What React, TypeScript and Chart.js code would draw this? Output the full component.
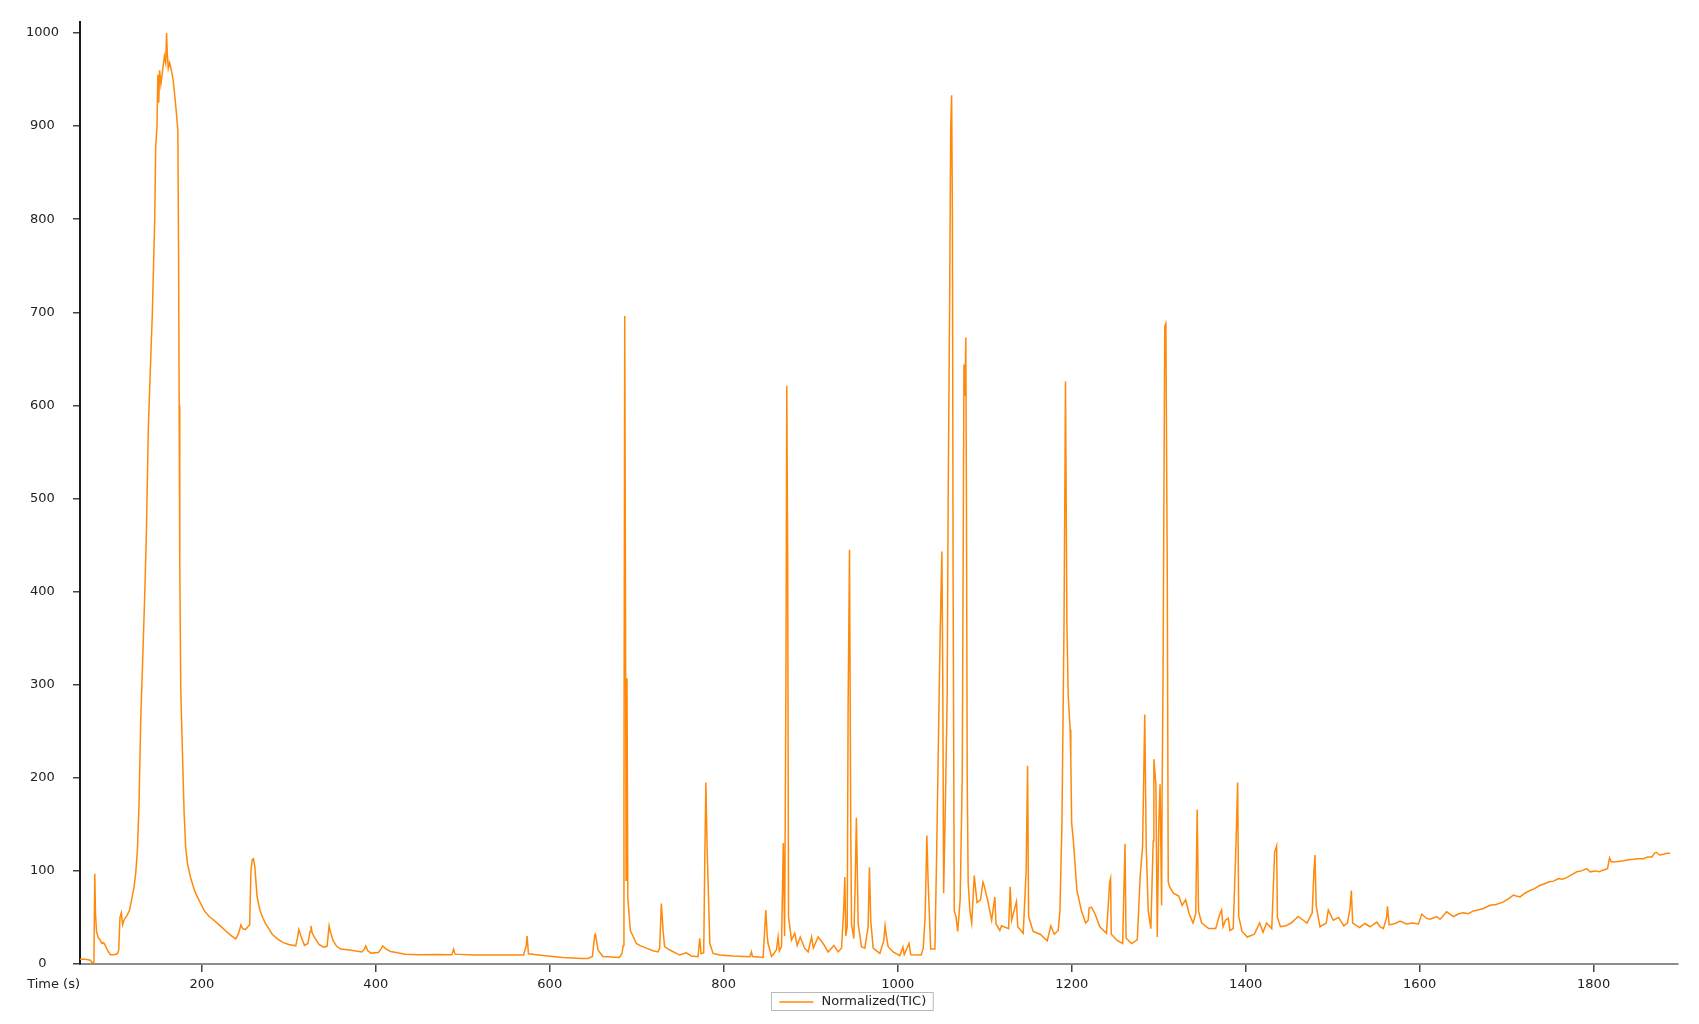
import React, { useEffect, useRef } from "react";
import { Chart, registerables } from "chart.js";

Chart.register(...registerables);

// Retention time (s)
const times: number[] = [
  60, 66, 72, 74, 76, 77, 77.8, 79, 81, 83, 85, 87, 89, 92, 95, 99, 103, 104.5, 106, 107.5,
  109, 111, 114, 117, 120, 122, 124, 126, 127.8, 129.8, 132.4, 134.7, 136.3, 138.6, 141.3, 143.2, 145.9, 147, 148.5, 149.5,
  150.5, 151.5, 153, 155, 157, 158.5, 159.5, 160.5, 161.5, 163, 165, 167, 169, 171, 172.5, 173.3, 174, 174.7, 175.8, 177.7,
  179.7, 181.5, 183.5, 187.3, 192, 197, 203, 208.5, 214, 220, 227, 233, 239, 242, 245, 247, 250, 253, 255, 256.5,
  258, 259.4, 261, 263.5, 266.8, 270, 273, 277, 281, 287, 293.6, 300, 308, 310, 311.5, 314, 318, 322, 324.5, 325.5,
  327, 330, 334.8, 340, 344, 346.4, 348, 351, 355, 359.6, 370, 384, 387, 388.5, 391, 394.6, 403, 406, 408, 412,
  417, 425, 433.8, 450, 471, 487.4, 489.5, 491, 512, 540, 569.9, 573, 574, 575.5, 594.6, 615, 636, 644, 649, 651.7,
  652.5, 655.5, 661, 680, 683, 684.5, 685.3, 686.2, 687, 687.8, 688.8, 689.8, 692.7, 699.6, 703.4, 711, 718.8, 724.5, 726.4, 728.3,
  730.3, 732, 738, 749.4, 757, 762.8, 770.5, 772.4, 774, 777, 778.2, 779.5, 781, 782, 784, 787.8, 795.4, 810.8, 830, 831.9,
  833, 845.3, 848.4, 850, 851, 855, 860.6, 862.5, 864, 866.4, 868.5, 870, 871.5, 872.5, 873.5, 874.5, 877.9, 881.7, 884.4, 888,
  893, 897, 901, 903, 908.5, 914.3, 920, 926.6, 931.6, 935.4, 938, 939.2, 940.3, 942, 943, 944.6, 946, 946.9, 949.5, 951,
  952.5, 954.6, 958.4, 962.2, 966, 967.5, 969, 971.8, 979.5, 984, 985.5, 987, 989, 994.8, 1002.5, 1006, 1007.5, 1013, 1015, 1027,
  1029.3, 1031.5, 1033.5, 1035, 1037.9, 1042.8, 1044.8, 1046.8, 1048.8, 1050.8, 1051.8, 1052.8, 1054.9, 1056.9, 1058, 1059.7, 1060.9, 1062, 1062.9, 1063.7,
  1065, 1067, 1069, 1071.8, 1074.2, 1076.2, 1077.3, 1078.3, 1079, 1079.9, 1081, 1083, 1085.1, 1088, 1091.2, 1095.2, 1098, 1099.2, 1103.3, 1108,
  1111.7, 1113, 1117.4, 1119.4, 1127.5, 1129.3, 1131, 1136.5, 1138, 1144.3, 1147.7, 1149.3, 1150.5, 1155.7, 1163.8, 1171.9, 1176, 1180, 1184.5, 1186.5,
  1188.8, 1191.2, 1192.9, 1194.5, 1196, 1198.2, 1199, 1200, 1202, 1206, 1211, 1216, 1219, 1220, 1222.8, 1226.7, 1232.4, 1240, 1243.7, 1244.7,
  1245.5, 1252.6, 1258.6, 1261.3, 1262.5, 1268.7, 1275.4, 1278.8, 1281.5, 1284, 1285.7, 1288, 1291, 1293.7, 1294.5, 1296.8, 1298.4, 1300.2, 1301.6, 1303.4,
  1303.9, 1305, 1307, 1308.3, 1309.9, 1311, 1313, 1317, 1323, 1327, 1331, 1335, 1339.5, 1342.6, 1344.3, 1345.8, 1349.4, 1357.5, 1365.5, 1370.4,
  1372.3, 1374, 1376.8, 1380, 1382, 1385.7, 1389, 1390.8, 1392, 1395.8, 1401.9, 1410, 1416, 1420, 1424, 1430, 1433.3, 1435.6, 1436.5, 1440,
  1446.2, 1452.3, 1460.4, 1466.3, 1470.5, 1476.5, 1478.5, 1479.7, 1481, 1485.4, 1492.6, 1495, 1500.7, 1506.8, 1512.8, 1517, 1520, 1521.5, 1523, 1531,
  1537, 1543, 1550.7, 1554.5, 1558.3, 1562, 1563, 1565, 1571.8, 1577.5, 1585, 1592, 1598.6, 1602.4, 1608, 1612, 1619.7, 1623.5, 1631, 1638.8,
  1645, 1650.3, 1656, 1661.8, 1667, 1673.3, 1681, 1688, 1696.3, 1702, 1707.8, 1711, 1715.5, 1721, 1727, 1732, 1738.5, 1743, 1748, 1754,
  1759.6, 1764, 1769, 1775, 1780.7, 1786, 1792, 1796, 1802, 1806, 1811.4, 1816, 1818.3, 1820, 1822.9, 1828, 1834.4, 1840, 1845.8, 1851,
  1857.4, 1862, 1867, 1870, 1872, 1876, 1880.4, 1884, 1888,
];

// Normalized TIC intensity
const tic: number[] = [
  5, 5, 4, 1, 2, 97, 55, 35, 28, 26, 22, 23, 20, 14, 10, 10, 11, 15, 50, 55,
  42, 48, 52, 58, 72, 82, 97, 122, 169, 262, 336, 406, 463, 577, 650, 700, 800, 877, 900, 955,
  925, 960, 945, 960, 975, 968, 1000, 975, 962, 968, 960, 950, 932, 912, 895, 764, 600, 430, 296, 229,
  162, 125, 108, 92, 78, 68, 57, 51, 47, 42, 36, 31, 27, 32, 42, 38, 37, 40, 42, 100,
  112, 113, 104, 73, 58, 50, 44, 38, 32, 27, 23, 21, 19.5, 28, 37, 30, 20, 22, 35, 41,
  33, 28, 21, 18, 19, 41, 34, 25, 19, 16, 15, 13, 16, 19.5, 14, 11.7, 12.4, 16, 19.5, 16,
  13.5, 12, 10.6, 10, 10.3, 10, 16, 10.6, 9.6, 9.6, 9.6, 20, 30, 11, 8.9, 7, 6, 6, 8, 31,
  32, 15, 8, 7, 11, 20, 170, 696, 420, 90, 307, 70, 36, 22, 20, 17, 14.3, 13, 17, 65,
  36, 18.6, 15, 9.6, 12, 8.6, 7.9, 27.5, 11, 12, 110, 195, 120, 90, 22, 11.4, 9.6, 8.6, 7.9, 13,
  8, 7, 58, 30, 22, 8, 15, 29, 14, 18.6, 130, 30, 300, 621, 440, 50.7, 25.7, 33, 20, 29,
  17, 13, 29, 17, 29, 22, 13, 20, 13, 17, 60, 93.5, 30, 40, 278, 445, 150, 43, 27.5, 80,
  157, 43, 18.6, 17, 40, 104, 47, 17, 11.4, 25, 41, 30, 18.6, 13, 9, 18, 10, 22, 10, 9.6,
  17, 50, 138, 88, 16, 16, 120, 239, 355, 443, 308, 76, 176, 289, 497, 710, 896, 933, 798, 415,
  57, 51, 35, 69, 202, 644, 610, 673, 503, 202, 88, 57, 44, 95, 66, 69, 88, 85, 69, 47,
  72, 43, 36, 41, 38, 83, 47, 67, 40, 33, 101, 213, 51, 35, 32, 25, 41, 32, 36, 57,
  151, 365, 626, 365, 289, 252, 220, 151, 132, 79, 58, 44, 47, 60, 61, 54, 40, 33, 88, 92,
  32, 25, 22, 129, 28, 22, 26, 95, 126, 268, 126, 57, 38, 132, 220, 193, 29, 151, 193, 63,
  175, 302, 685, 688, 415, 88, 82, 76, 73, 63, 69, 54, 44, 54, 166, 57, 44, 38, 38, 54,
  58, 40, 47, 49, 36, 38, 132, 195, 51, 35, 29, 32, 44, 34, 44, 38, 120, 127, 50, 40,
  41, 44, 51, 47, 44, 55, 100, 117, 63, 40, 44, 58, 47, 50, 41, 44, 60, 79, 44, 39,
  43.5, 40, 45, 40, 38, 50, 62, 42, 43.5, 46, 43, 44, 43, 53.5, 49, 48, 51, 48, 56, 51,
  54, 55, 54, 57, 58, 59.6, 63, 64, 66.7, 70, 74, 73, 72, 76, 79, 81, 84.6, 86, 88, 89,
  91.7, 91, 92.8, 96, 99, 100, 102.4, 99, 100, 99, 101, 102.4, 114, 110, 109.6, 110, 111, 112, 112.4, 113,
  113, 115, 115, 119, 120, 117, 117.8, 119, 119,
];

const xTickValues: number[] = [200, 400, 600, 800, 1000, 1200, 1400, 1600, 1800];
const yTickValues: number[] = [0, 100, 200, 300, 400, 500, 600, 700, 800, 900, 1000];

const seriesLabel = "Normalized(TIC)";
const xAxisLabel = "Time (s)";

const LINE_COLOR = "rgb(255,137,10)";
const FONT = "DejaVu Sans";

export default function App() {
  const canvasRef = useRef<HTMLCanvasElement | null>(null);

  useEffect(() => {
    document.body.style.margin = "0";
    const canvas = canvasRef.current;
    if (!canvas) return;

    const overlay = {
      id: "overlay",
      afterDraw(chart: any) {
        const ctx = chart.ctx;
        const area = chart.chartArea;
        ctx.save();
        // axis title next to tick labels
        ctx.font = `13px "${FONT}"`;
        ctx.fillStyle = "#222";
        ctx.textAlign = "right";
        ctx.textBaseline = "middle";
        ctx.fillText(xAxisLabel, area.left, area.bottom + 21);

        // legend with border
        const tw = ctx.measureText(seriesLabel).width;
        const boxW = 8 + 34 + 8 + tw + 7;
        const boxH = 18;
        const cx = 852;
        const bx = Math.round(cx - boxW / 2) + 0.5;
        const by = 992.5;
        ctx.strokeStyle = "#b8b8b8";
        ctx.lineWidth = 1;
        ctx.strokeRect(bx, by, boxW, boxH);
        ctx.strokeStyle = LINE_COLOR;
        ctx.lineWidth = 1.3;
        ctx.beginPath();
        ctx.moveTo(bx + 8, by + 9.5);
        ctx.lineTo(bx + 42, by + 9.5);
        ctx.stroke();
        ctx.fillStyle = "#222";
        ctx.textAlign = "left";
        ctx.textBaseline = "middle";
        ctx.fillText(seriesLabel, bx + 50, by + 9.5);
        ctx.restore();
      },
    };

    const chart = new Chart(canvas, {
      type: "line",
      data: {
        datasets: [
          {
            label: seriesLabel,
            data: times.map((t, i) => ({ x: t, y: tic[i] })),
            borderColor: LINE_COLOR,
            backgroundColor: LINE_COLOR,
            borderWidth: 1.5,
            pointRadius: 0,
            tension: 0,
            fill: false,
          },
        ],
      },
      options: {
        animation: false,
        responsive: false,
        maintainAspectRatio: false,
        devicePixelRatio: 1,
        layout: { padding: { left: 0, right: 21, top: 19, bottom: 0 } },
        plugins: {
          legend: { display: false },
          tooltip: { enabled: false },
          title: { display: false },
        },
        scales: {
          x: {
            type: "linear",
            min: 60,
            max: 1897,
            afterBuildTicks: (axis: any) => {
              axis.ticks = xTickValues.map((v) => ({ value: v }));
            },
            afterFit: (axis: any) => {
              axis.height = 60;
            },
            grid: {
              drawOnChartArea: false,
              drawTicks: true,
              tickLength: 8,
              color: "#444",
              lineWidth: 1.5,
            },
            border: { display: true, color: "#8c8c8c", width: 2 },
            ticks: {
              autoSkip: false,
              maxRotation: 0,
              padding: 5,
              color: "#222",
              font: { family: FONT, size: 13 },
              callback: (v: any) => String(v),
            },
          },
          y: {
            type: "linear",
            min: 0,
            max: 1012,
            afterBuildTicks: (axis: any) => {
              axis.ticks = yTickValues.map((v) => ({ value: v }));
            },
            afterFit: (axis: any) => {
              axis.width = 80;
            },
            grid: {
              drawOnChartArea: false,
              drawTicks: true,
              tickLength: 7,
              color: "#444",
              lineWidth: 1.5,
            },
            border: { display: true, color: "#1a1a1a", width: 2 },
            ticks: {
              crossAlign: "center",
              padding: 14,
              color: "#222",
              font: { family: FONT, size: 13 },
              callback: (v: any) => String(v),
            },
          },
        },
      },
      plugins: [overlay],
    } as any);

    return () => {
      chart.destroy();
    };
  }, []);

  return (
    <div style={{ position: "absolute", left: 0, top: 0, width: 1699, height: 1024, background: "#fff" }}>
      <canvas ref={canvasRef} width={1699} height={1024} style={{ width: 1699, height: 1024, display: "block" }} />
    </div>
  );
}
